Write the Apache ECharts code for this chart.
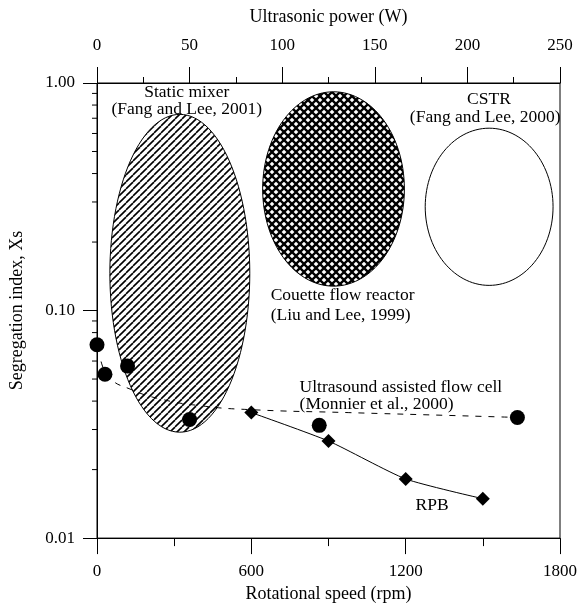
<!DOCTYPE html>
<html><head><meta charset="utf-8">
<script src="https://cdn.jsdelivr.net/npm/echarts@6/dist/echarts.min.js"></script>
<style>html,body{margin:0;padding:0;background:#fff}#c{width:580px;height:608px}</style>
</head><body><div id="c"></div>
<script>
// Ultrasound assisted flow cell (top axis, ultrasonic power in W)
const ultraPower = [0, 4.3, 16.5, 50, 120, 227];
const ultraXs = [0.0707, 0.0525, 0.057, 0.0332, 0.0313, 0.0339];
// Dashed trend line for ultrasound cell (W)
const ultraTrendPower = [2.2, 7, 17.8, 34, 55.5, 82.4, 136, 190, 227.4];
const ultraTrendXs = [0.0597, 0.0504, 0.0452, 0.0409, 0.0382, 0.0367, 0.0356, 0.0346, 0.0339];
// RPB (bottom axis, rotational speed in rpm)
const rpbSpeed = [600, 900, 1200, 1500];
const rpbXs = [0.0356, 0.0267, 0.0182, 0.0149];
// Regions (ellipses) in data coordinates
const regionNames = ['Static mixer', 'Couette flow reactor', 'CSTR'];
const regionSpeedMin = [50, 644, 1276];
const regionSpeedMax = [594, 1195, 1773];
const regionXsMin = [0.0292, 0.128, 0.129];
const regionXsMax = [0.728, 0.915, 0.633];
// Annotations
const noteText = ['Static mixer', '(Fang and Lee, 2001)', 'CSTR', '(Fang and Lee, 2000)',
  'Couette flow reactor', '(Liu and Lee, 1999)', 'Ultrasound assisted flow cell', '(Monnier et al., 2000)', 'RPB'];
const noteSpeed = [349, 349, 1524, 1509, 675, 675, 787.5, 787.5, 1303];
const noteXs = [0.906, 0.765, 0.845, 0.707, 0.116, 0.0952, 0.0461, 0.0386, 0.01387];
const noteAnchor = ['center', 'center', 'center', 'center', 'left', 'left', 'left', 'left', 'center'];
// Ticks
const speedTicks = [0, 600, 1200, 1800];
const powerTicks = [0, 50, 100, 150, 200, 250];
const xsTickLabels = ['0.01', '0.10', '1.00'];
const xsMinorTicks = [0.02, 0.03, 0.04, 0.05, 0.06, 0.07, 0.08, 0.09, 0.2, 0.3, 0.4, 0.5, 0.6, 0.7, 0.8, 0.9];

const FONT = '"Liberation Serif", "Times New Roman", serif';

function makePattern(size, lw, dirs) {
  const c = document.createElement('canvas');
  c.width = c.height = size;
  const g = c.getContext('2d');
  g.fillStyle = '#fff'; g.fillRect(0, 0, size, size);
  g.strokeStyle = '#000'; g.lineWidth = lw;
  for (const o of [-size, 0, size]) {
    if (dirs.includes('/')) { g.beginPath(); g.moveTo(o, size); g.lineTo(o + size, 0); g.stroke(); }
    if (dirs.includes('\\')) { g.beginPath(); g.moveTo(o, 0); g.lineTo(o + size, size); g.stroke(); }
  }
  return { image: c, repeat: 'repeat' };
}
const fills = [makePattern(7, 1.6, '/'), makePattern(8, 2.3, '/\\'), '#fff'];

const chart = echarts.init(document.getElementById('c'), null, { renderer: 'canvas' });

const axisCommon = {
  axisLine: { show: true, lineStyle: { color: '#000', width: 1 } },
  axisTick: { show: true, length: 16, lineStyle: { color: '#000', width: 1 } },
  splitLine: { show: false },
  axisLabel: { color: '#000', fontFamily: FONT, fontSize: 17, formatter: v => String(v) },
  nameTextStyle: { color: '#000', fontFamily: FONT, fontSize: 18 }
};

chart.setOption({
  animation: false,
  backgroundColor: '#fff',
  grid: { left: 97, right: 19, top: 83, bottom: 61, show: true, borderColor: '#000', borderWidth: 1, containLabel: false },
  xAxis: [
    Object.assign({}, axisCommon, {
      type: 'value', position: 'bottom', min: speedTicks[0], max: speedTicks[speedTicks.length - 1],
      interval: speedTicks[1] - speedTicks[0],
      name: 'Rotational speed (rpm)', nameLocation: 'middle', nameGap: 41,
      axisLabel: Object.assign({}, axisCommon.axisLabel, { margin: 25 }),
      minorTick: { show: true, splitNumber: 2, length: 8, lineStyle: { color: '#000', width: 1 } }
    }),
    Object.assign({}, axisCommon, {
      type: 'value', position: 'top', min: powerTicks[0], max: powerTicks[powerTicks.length - 1],
      interval: powerTicks[1] - powerTicks[0],
      name: 'Ultrasonic power (W)', nameLocation: 'middle', nameGap: 57,
      axisLabel: Object.assign({}, axisCommon.axisLabel, { margin: 29 }),
      minorTick: { show: true, splitNumber: 2, length: 6, lineStyle: { color: '#000', width: 1 } }
    })
  ],
  yAxis: [
    Object.assign({}, axisCommon, {
      type: 'log', logBase: 10, min: 0.01, max: 1,
      name: 'Segregation index, Xs', nameLocation: 'middle', nameGap: 71,
      axisTick: { show: true, length: 14, lineStyle: { color: '#000', width: 1 } },
      axisLabel: Object.assign({}, axisCommon.axisLabel, {
        margin: 22,
        formatter: v => {
          const idx = Math.round(Math.log10(v)) + 2;
          return xsTickLabels[idx] !== undefined ? xsTickLabels[idx] : '';
        }
      })
    })
  ],
  series: [
    {
      type: 'custom', name: 'regions', coordinateSystem: 'cartesian2d', xAxisIndex: 0, yAxisIndex: 0,
      encode: { x: [0, 1], y: [2, 3] }, silent: true, z: 1, clip: false,
      data: regionNames.map((n, i) => [regionSpeedMin[i], regionSpeedMax[i], regionXsMin[i], regionXsMax[i]]),
      renderItem: (params, api) => {
        const p1 = api.coord([api.value(0), api.value(3)]);
        const p2 = api.coord([api.value(1), api.value(2)]);
        const cx = (p1[0] + p2[0]) / 2, cy = (p1[1] + p2[1]) / 2;
        const rx = Math.abs(p2[0] - p1[0]) / 2, ry = Math.abs(p2[1] - p1[1]) / 2;
        const pts = [];
        for (let k = 0; k < 120; k++) {
          const t = k / 120 * 2 * Math.PI;
          pts.push([cx + rx * Math.cos(t), cy + ry * Math.sin(t)]);
        }
        return { type: 'polygon', shape: { points: pts }, style: { fill: fills[params.dataIndex], stroke: '#000', lineWidth: 1 } };
      }
    },
    {
      type: 'custom', name: 'minorY', coordinateSystem: 'cartesian2d', xAxisIndex: 0, yAxisIndex: 0,
      encode: { x: 0, y: 1 }, silent: true, z: 5, clip: false,
      data: xsMinorTicks.map(v => [speedTicks[0], v]),
      renderItem: (params, api) => {
        const p = api.coord([api.value(0), api.value(1)]);
        return { type: 'line', shape: { x1: p[0] - 5, y1: p[1], x2: p[0], y2: p[1] }, style: { stroke: '#000', lineWidth: 1 } };
      }
    },
    {
      type: 'line', name: 'ultra trend', xAxisIndex: 1, yAxisIndex: 0, showSymbol: false, symbol: 'none',
      smooth: true, z: 3, silent: true,
      lineStyle: { color: '#000', width: 1, type: [6, 7] },
      data: ultraTrendPower.map((p, i) => [p, ultraTrendXs[i]])
    },
    {
      type: 'scatter', name: 'Ultrasound assisted flow cell', xAxisIndex: 1, yAxisIndex: 0,
      symbol: 'circle', symbolSize: 15, clip: false, z: 4,
      itemStyle: { color: '#000', opacity: 1 },
      data: ultraPower.map((p, i) => [p, ultraXs[i]])
    },
    {
      type: 'line', name: 'RPB', xAxisIndex: 0, yAxisIndex: 0, symbol: 'diamond', symbolSize: 14,
      smooth: 0.2, z: 4,
      lineStyle: { color: '#000', width: 1 }, itemStyle: { color: '#000', opacity: 1 },
      data: rpbSpeed.map((s, i) => [s, rpbXs[i]])
    },
    {
      type: 'custom', name: 'notes', coordinateSystem: 'cartesian2d', xAxisIndex: 0, yAxisIndex: 0,
      encode: { x: 0, y: 1 }, silent: true, z: 6, clip: false,
      data: noteText.map((t, i) => [noteSpeed[i], noteXs[i]]),
      renderItem: (params, api) => {
        const i = params.dataIndex;
        const p = api.coord([api.value(0), api.value(1)]);
        return { type: 'text', x: p[0], y: p[1],
          style: { text: noteText[i], fill: '#000', font: '17.5px ' + FONT, align: noteAnchor[i], verticalAlign: 'middle' } };
      }
    }
  ]
});
</script></body></html>
